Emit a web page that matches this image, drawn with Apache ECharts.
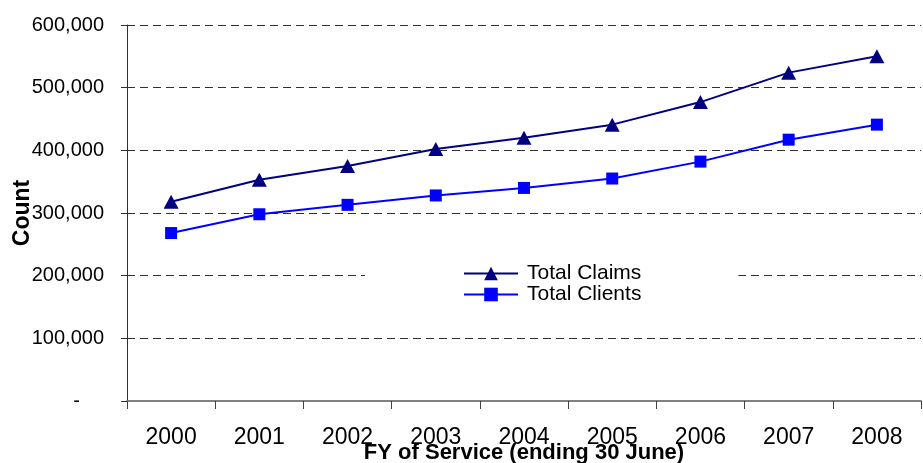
<!DOCTYPE html>
<html>
<head>
<meta charset="utf-8">
<script src="https://cdn.jsdelivr.net/npm/echarts@6/dist/echarts.min.js"></script>
<style>html,body{margin:0;padding:0;background:#fff;}#c{width:923px;height:463px;}</style>
</head>
<body>
<div id="c"></div>
<script>
var categories = ['2000','2001','2002','2003','2004','2005','2006','2007','2008'];
var totalClaims = [318000, 353000, 375000, 402000, 420000, 441000, 477000, 524000, 550000];
var totalClients = [268000, 298000, 313000, 328000, 340000, 355000, 382000, 417000, 441000];
var yTicks = [0, 100000, 200000, 300000, 400000, 500000, 600000];

var chart = echarts.init(document.getElementById('c'), null, {renderer: 'canvas'});
var font = 'Liberation Sans, Arial, sans-serif';
chart.setOption({
  animation: false,
  backgroundColor: '#fff',
  textStyle: {fontFamily: font},
  grid: {left: 127, right: 2, top: 25, bottom: 62, containLabel: false, outerBoundsMode: 'none'},
  legend: {
    orient: 'vertical',
    left: 365,
    top: 261,
    padding: [2, 97, 2, 98],
    backgroundColor: '#fff',
    itemGap: 0,
    itemWidth: 54,
    itemHeight: 17,
    textStyle: {fontSize: 21, color: '#000', fontFamily: font, lineHeight: 19, padding: [0, 0, 0, 4]},
    data: ['Total Claims', 'Total Clients']
  },
  xAxis: {
    type: 'category',
    data: categories,
    boundaryGap: true,
    name: 'FY of Service (ending 30 June)',
    nameLocation: 'middle',
    nameGap: 41,
    nameMoveOverlap: false,
    nameTextStyle: {fontSize: 22, fontWeight: 'bold', color: '#000', fontFamily: font},
    axisLine: {lineStyle: {color: '#808080', width: 2}},
    axisTick: {show: true, length: 8, alignWithLabel: false, lineStyle: {color: '#404040'}},
    axisLabel: {fontSize: 23, color: '#000', margin: 25, fontFamily: font},
    splitLine: {show: false}
  },
  yAxis: {
    type: 'value',
    min: 0,
    max: 600000,
    interval: 100000,
    name: 'Count',
    nameLocation: 'middle',
    nameGap: 93,
    nameMoveOverlap: false,
    nameTextStyle: {fontSize: 23, fontWeight: 'bold', color: '#000', fontFamily: font},
    axisLine: {show: true, lineStyle: {color: '#303030', width: 1}},
    axisTick: {show: true, length: 6, lineStyle: {color: '#303030'}},
    axisLabel: {
      fontSize: 20, color: '#000', margin: 23, fontFamily: font,
      formatter: function (v) {
        if (v === 0) return '{z|-}';
        return v.toLocaleString('en-US');
      },
      rich: {z: {fontSize: 20, color: '#000', padding: [0, 24, 0, 0], fontFamily: font}}
    },
    splitLine: {show: true, lineStyle: {color: '#303030', type: [8, 5], width: 1}}
  },
  series: [
    {
      name: 'Total Claims',
      type: 'line',
      data: totalClaims,
      symbol: 'triangle',
      symbolSize: [15, 14],
      showAllSymbol: true,
      lineStyle: {color: '#000080', width: 2},
      itemStyle: {color: '#000080'},
      z: 3
    },
    {
      name: 'Total Clients',
      type: 'line',
      data: totalClients,
      symbol: 'rect',
      symbolSize: 12,
      showAllSymbol: true,
      lineStyle: {color: '#0000FF', width: 2},
      itemStyle: {color: '#0000FF'},
      z: 3
    }
  ]
});
</script>
</body>
</html>
